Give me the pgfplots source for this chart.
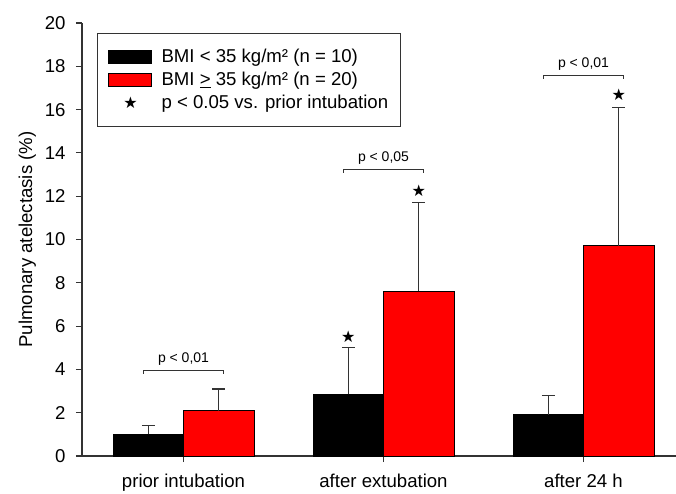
\documentclass[border=0pt]{standalone}
\usepackage{fontspec}
\setmainfont{Liberation Sans}
\newfontfamily\sym{DejaVu Sans}
\usepackage{pgfplots}
\pgfplotsset{compat=1.18}

\definecolor{barred}{HTML}{FF0000}
\definecolor{axgray}{HTML}{333333}

\newcommand{\bigtxt}{\fontsize{18.6}{21}\selectfont}
\newcommand{\legtxt}{\fontsize{18.6}{21}\selectfont}
\newcommand{\smalltxt}{\fontsize{14}{16}\selectfont}
\newcommand{\startxt}{\sym\fontsize{16}{16}\selectfont}

\pgfplotsset{
    sdbars/.style={
        error bars/.cd, y dir=plus, y explicit,
        error mark=|,
        error bar style={axgray, line width=1.3pt},
        error mark options={axgray, line width=1.3pt, mark size=6.5pt},
    },
    starlegend/.style={
        legend image code/.code={\draw[##1] plot coordinates {(22.5pt,0pt)}; \path (0pt,-6.5pt) (51pt,6.5pt);},
    },
}

\begin{document}
\begin{tikzpicture}
\begin{axis}[
    scale only axis,
    width=594pt, height=433pt,
    xmin=-0.5075, xmax=2.4625,
    ymin=0, ymax=20,
    axis x line*=bottom, axis y line*=left,
    axis line style={axgray, line width=1.2pt},
    tick align=outside, major tick length=6pt,
    tick style={axgray, line width=1.2pt},
    xtick={0,1,2},
    xticklabels={prior intubation, after extubation, after 24 h},
    ytick={0,2,...,20},
    /pgf/number format/assume math mode=true,
    ticklabel style={font=\bigtxt},
    yticklabel style={xshift=-7pt},
    xticklabel style={yshift=-8pt},
    ylabel={Pulmonary atelectasis (\%)},
    ylabel style={font=\bigtxt},
    ylabel shift=2pt,
    legend style={
        at={(0.0253,0.977)}, anchor=north west,
        draw=axgray, line width=1pt,
        font=\legtxt, inner xsep=10pt, inner ysep=15pt,
        row sep=6pt,
        nodes={inner xsep=2pt, inner ysep=1pt},
    },
    legend cell align=left,
]

% bars (plotted at their shifted positions) with upward SD
\addplot[ybar, bar width=0.3525, bar shift=0, fill=black, draw=black, line width=1pt,
    legend image code/.code={\draw[fill=black, draw=black, line width=1pt] (0pt,-6.5pt) rectangle (43pt,6.5pt); \path (51pt,0pt);},
    sdbars]
coordinates {(-0.17625,1.0) +- (0,0.4) (0.82375,2.85) +- (0,2.15) (1.82375,1.9) +- (0,0.9)};
\addlegendentry{BMI < 35 kg/m² (n = 10)}

\addplot[ybar, bar width=0.3525, bar shift=0, fill=barred, draw=black, line width=1pt,
    legend image code/.code={\draw[fill=barred, draw=black, line width=1pt] (0pt,-6.5pt) rectangle (43pt,6.5pt); \path (51pt,0pt);},
    sdbars]
coordinates {(0.17625,2.1) +- (0,1.0) (1.17625,7.6) +- (0,4.1) (2.17625,9.7) +- (0,6.4)};
\addlegendentry{BMI \underline{>} 35 kg/m² (n = 20)}

% significance vs. prior intubation
\addplot[only marks, mark=text, text mark={\startxt ★}, black, starlegend]
coordinates {(0.82375,5.5) (1.17625,12.24) (2.17625,16.67)};
\addlegendentry{p < 0.05 vs. prior intubation}

% group comparison brackets
\addplot[axgray, line width=1.1pt, forget plot] coordinates {(-0.2,3.81) (-0.2,3.97) (0.2,3.97) (0.2,3.81)}
    node[pos=0.5, anchor=south, yshift=4pt, inner sep=0pt, font=\smalltxt, black] {p < 0,01};
\addplot[axgray, line width=1.1pt, forget plot] coordinates {(0.8,13.08) (0.8,13.24) (1.2,13.24) (1.2,13.08)}
    node[pos=0.5, anchor=south, yshift=4pt, inner sep=0pt, font=\smalltxt, black] {p < 0,05};
\addplot[axgray, line width=1.1pt, forget plot] coordinates {(1.8,17.42) (1.8,17.58) (2.2,17.58) (2.2,17.42)}
    node[pos=0.5, anchor=south, yshift=4pt, inner sep=0pt, font=\smalltxt, black] {p < 0,01};
\end{axis}
\pgfresetboundingbox
\path ([xshift=-82pt,yshift=-37pt]current axis.south west) rectangle ([yshift=23pt]current axis.north east);
\end{tikzpicture}
\end{document}
